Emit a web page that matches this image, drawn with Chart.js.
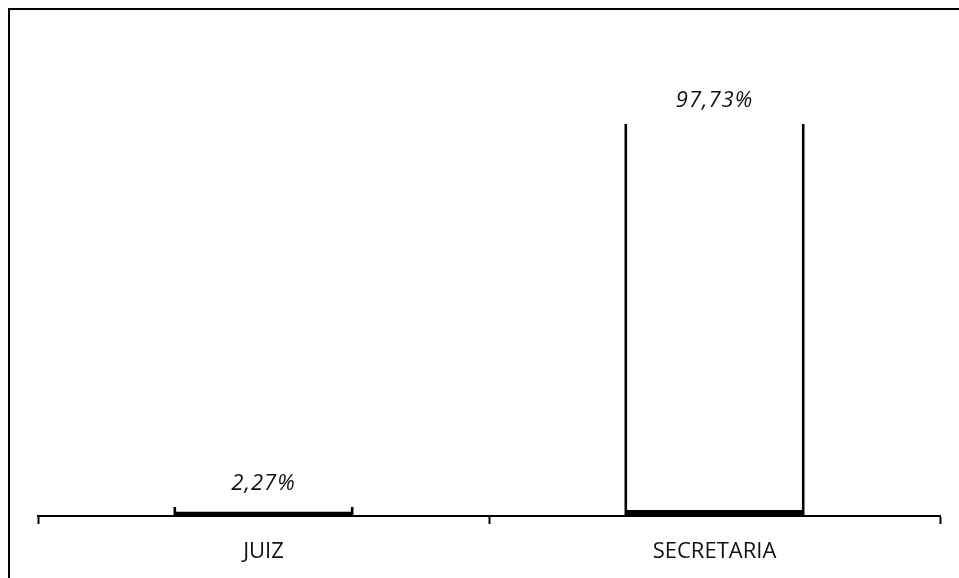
<!DOCTYPE html>
<html>
<head>
<meta charset="utf-8">
<script src="https://cdn.jsdelivr.net/npm/chart.js@4.4.1/dist/chart.umd.min.js"></script>
<style>
    html, body { margin: 0; padding: 0; background: #fff; }
    .wrap { position: relative; width: 959px; height: 578px; }
</style>
</head>
<body>
<div class="wrap">
    <canvas id="chart" width="959" height="578"></canvas>
</div>
<script>
const categories = ['JUIZ', 'SECRETARIA'];
const values = [2.27, 97.73];
const valueLabels = ['2,27%', '97,73%'];

const ctx = document.getElementById('chart');

// draws the frame around the picture
const framePlugin = {
    id: 'frame',
    beforeDraw(chart) {
        const c = chart.ctx;
        c.save();
        c.strokeStyle = '#000';
        c.lineWidth = 2;
        c.beginPath();
        c.moveTo(9, chart.height + 5);
        c.lineTo(9, 9);
        c.lineTo(chart.width + 5, 9);
        c.stroke();
        c.restore();
    }
};

// value labels above each bar
const valueLabelPlugin = {
    id: 'valueLabels',
    afterDatasetsDraw(chart) {
        const c = chart.ctx;
        const meta = chart.getDatasetMeta(0);
        c.save();
        c.font = 'italic 22px "Open Sans", sans-serif';
        c.letterSpacing = '1px';
        c.fillStyle = '#111';
        c.textAlign = 'center';
        c.textBaseline = 'alphabetic';
        meta.data.forEach(function (bar, i) {
            c.fillText(valueLabels[i], bar.x, bar.y - 17);
        });
        c.letterSpacing = '0px';
        c.restore();
    }
};

new Chart(ctx, {
    type: 'bar',
    data: {
        labels: categories,
        datasets: [{
            data: values,
            backgroundColor: '#fff',
            borderColor: '#000',
            borderWidth: { left: 3, right: 3, top: 0, bottom: 6 },
            borderSkipped: false,
            categoryPercentage: 1,
            barPercentage: 0.4
        }]
    },
    options: {
        responsive: false,
        animation: false,
        layout: {
            padding: { left: 38, right: 19, top: 115, bottom: 0 }
        },
        scales: {
            x: {
                border: { display: true, color: '#000', width: 2 },
                grid: {
                    display: true,
                    drawOnChartArea: false,
                    drawTicks: true,
                    tickLength: 8,
                    tickWidth: 2,
                    tickColor: '#000'
                },
                ticks: {
                    color: '#111',
                    padding: 15,
                    font: { family: '"Open Sans", sans-serif', size: 22 }
                },
                afterFit(scale) {
                    scale.height = 62;
                }
            },
            y: {
                display: false,
                min: 0,
                max: 100
            }
        },
        plugins: {
            legend: { display: false },
            tooltip: { enabled: false }
        }
    },
    plugins: [framePlugin, valueLabelPlugin]
});
</script>
</body>
</html>
